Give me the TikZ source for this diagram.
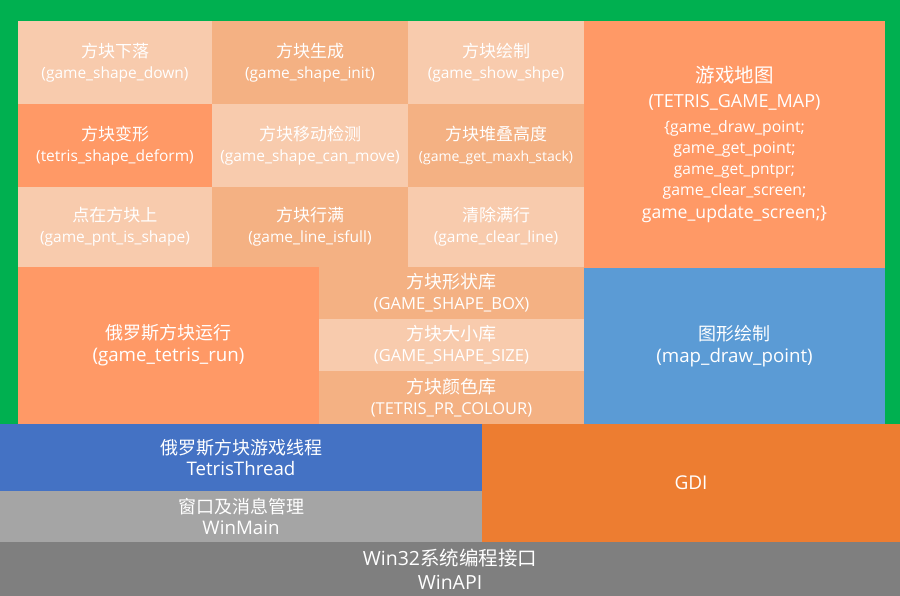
\documentclass[tikz,border=0pt]{standalone}
\usepackage{fontspec}
\setmainfont{Open Sans}
\newfontfamily\cjk{Noto Sans CJK SC}
\definecolor{bggreen}{HTML}{00B050}
\definecolor{lite}{HTML}{F8CBAD}
\definecolor{mid}{HTML}{F4B183}
\definecolor{deep}{HTML}{FF9966}
\definecolor{skyblue}{HTML}{5B9BD5}
\definecolor{threadblue}{HTML}{4472C4}
\definecolor{gdiorange}{HTML}{ED7D31}
\definecolor{lightgray}{HTML}{A5A5A5}
\definecolor{darkgray}{HTML}{7F7F7F}
\tikzset{
  blk/.style={anchor=north west, inner sep=0pt, outer sep=0pt, text=white,
    align=center, font=\fontsize{15.5}{21}\selectfont},
}
\newcommand\zh[2][17]{{\cjk\fontsize{#1}{#1}\selectfont #2}}
\newcommand\sz[2]{{\fontsize{#1}{#1}\selectfont #2}}
\begin{document}
\begin{tikzpicture}[x=1pt, y=-1pt]
    \useasboundingbox (0,0) rectangle (900,596);
    \fill[bggreen] (0,0) rectangle (900,424);
    % top grid
    \node[blk, fill=lite, minimum width=194pt, minimum height=83pt] (down) at (18,21) {\zh{方块下落}\\(game\_shape\_down)};
    \node[blk, fill=mid, minimum width=196pt, minimum height=83pt] (init) at (212,21) {\zh{方块生成}\\(game\_shape\_init)};
    \node[blk, fill=lite, minimum width=176pt, minimum height=83pt] (show) at (408,21) {\zh{方块绘制}\\(game\_show\_shpe)};
    \node[blk, fill=deep, minimum width=194pt, minimum height=83pt] (deform) at (18,104) {\zh{方块变形}\\(tetris\_shape\_deform)};
    \node[blk, fill=lite, minimum width=196pt, minimum height=83pt] (move) at (212,104) {\zh{方块移动检测}\\(game\_shape\_can\_move)};
    \node[blk, fill=mid, minimum width=176pt, minimum height=83pt] (stack) at (408,104) {\zh{方块堆叠高度}\\\sz{14}{(game\_get\_maxh\_stack)}};
    \node[blk, fill=lite, minimum width=194pt, minimum height=80pt] (pnt) at (18,187) {\zh{点在方块上}\\(game\_pnt\_is\_shape)};
    \node[blk, fill=mid, minimum width=196pt, minimum height=80pt] (full) at (212,187) {\zh{方块行满}\\(game\_line\_isfull)};
    \node[blk, fill=lite, minimum width=176pt, minimum height=80pt] (clear) at (408,187) {\zh{清除满行}\\(game\_clear\_line)};
    % map
    \node[blk, fill=deep, minimum width=301pt, minimum height=247pt] (map) at (584,21) {\zh[19.5]{游戏地图}\\[4pt]
        \sz{18}{(TETRIS\_GAME\_MAP)}\\[4pt]
        \sz{15.8}{\{game\_draw\_point;}\\
        \sz{16}{game\_get\_point;}\\
        \sz{15.5}{game\_get\_pntpr;}\\
        \sz{15.8}{game\_clear\_screen;}\\[2pt]
        \sz{17.6}{game\_update\_screen;\}}};
    % middle
    \node[blk, fill=deep, minimum width=301pt, minimum height=157pt] (run) at (18,267) {\zh[18]{俄罗斯方块运行}\\[1pt]\sz{18.7}{(game\_tetris\_run)}};
    \node[blk, fill=mid, minimum width=265pt, minimum height=52pt] (box) at (319,267) {\zh[18]{方块形状库}\\\sz{16.6}{(GAME\_SHAPE\_BOX)}};
    \node[blk, fill=lite, minimum width=265pt, minimum height=52pt] (size) at (319,319) {\zh[18]{方块大小库}\\\sz{16.6}{(GAME\_SHAPE\_SIZE)}};
    \node[blk, fill=mid, minimum width=265pt, minimum height=53pt] (colour) at (319,371) {\zh[18]{方块颜色库}\\\sz{16.4}{(TETRIS\_PR\_COLOUR)}};
    \node[blk, fill=skyblue, minimum width=301pt, minimum height=156pt] (draw) at (584,268) {\zh[18]{图形绘制}\\[1pt]\sz{18.7}{(map\_draw\_point)}};
    % bottom layers
    \node[blk, fill=threadblue, minimum width=482pt, minimum height=67pt] (thread) at (0,424) {\zh[18]{俄罗斯方块游戏线程}\\\sz{18.7}{TetrisThread}};
    \node[blk, fill=lightgray, minimum width=482pt, minimum height=51pt] (winmain) at (0,491) {\zh[18]{窗口及消息管理}\\\sz{18.7}{WinMain}};
    \node[blk, fill=gdiorange, minimum width=418pt, minimum height=118pt] (gdi) at (482,424) {\sz{19}{GDI}};
    \node[blk, fill=darkgray, minimum width=900pt, minimum height=54pt] (winapi) at (0,542) {\sz{19.5}{Win32\zh[19.5]{系统编程接口}}\\[3pt]\sz{19.5}{WinAPI}};
\end{tikzpicture}
\end{document}
